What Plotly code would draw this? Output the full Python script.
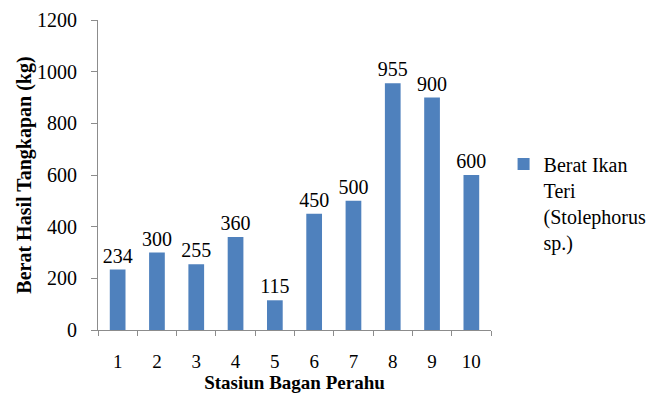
import plotly.graph_objects as go

stations = ["1", "2", "3", "4", "5", "6", "7", "8", "9", "10"]
catch_kg = [234, 300, 255, 360, 115, 450, 500, 955, 900, 600]
series_name = "Berat Ikan<br>Teri<br>(Stolephorus<br>sp.)"
y_ticks = [0, 200, 400, 600, 800, 1000, 1200]

font_family = "Times New Roman, Liberation Serif, DejaVu Serif, serif"
axis_color = "#8c8c8c"

fig = go.Figure(
    go.Bar(
        x=stations,
        y=catch_kg,
        name=series_name,
        marker=dict(color="#4F81BD", line=dict(width=0)),
        text=[str(v) for v in catch_kg],
        textposition="outside",
        constraintext="none",
        textfont=dict(family=font_family, size=20, color="#000"),
        cliponaxis=False,
        showlegend=True,
    )
)

fig.update_layout(
    width=663,
    height=396,
    margin=dict(l=98, r=172, t=20, b=66, autoexpand=False),
    paper_bgcolor="white",
    plot_bgcolor="white",
    bargap=0.6,
    font=dict(family=font_family, size=20, color="#000"),
    legend=dict(
        x=1.032,
        y=0.41,
        xanchor="left",
        yanchor="middle",
        valign="top",
        font=dict(family=font_family, size=20, color="#000"),
        itemwidth=30,
        tracegroupgap=0,
    ),
    xaxis=dict(
        automargin=False,
        showline=True,
        linecolor=axis_color,
        linewidth=1,
        ticks="outside",
        tickson="boundaries",
        ticklen=5,
        tickcolor=axis_color,
        tickfont=dict(family=font_family, size=19),
        ticklabelstandoff=14,
        title=dict(
            text="<b>Stasiun Bagan Perahu</b>",
            font=dict(family=font_family, size=19),
            standoff=3,
        ),
        showgrid=False,
        zeroline=False,
    ),
    yaxis=dict(
        automargin=False,
        range=[0, 1200],
        tickvals=y_ticks,
        showline=True,
        linecolor=axis_color,
        linewidth=1,
        ticks="outside",
        ticklen=6,
        tickcolor=axis_color,
        tickfont=dict(family=font_family, size=20),
        ticklabelstandoff=10,
        title=dict(
            text="<b>Berat Hasil Tangkapan (kg)</b>",
            font=dict(family=font_family, size=20),
            standoff=0,
        ),
        showgrid=False,
        zeroline=False,
    ),
)

fig.write_html("out.html")
